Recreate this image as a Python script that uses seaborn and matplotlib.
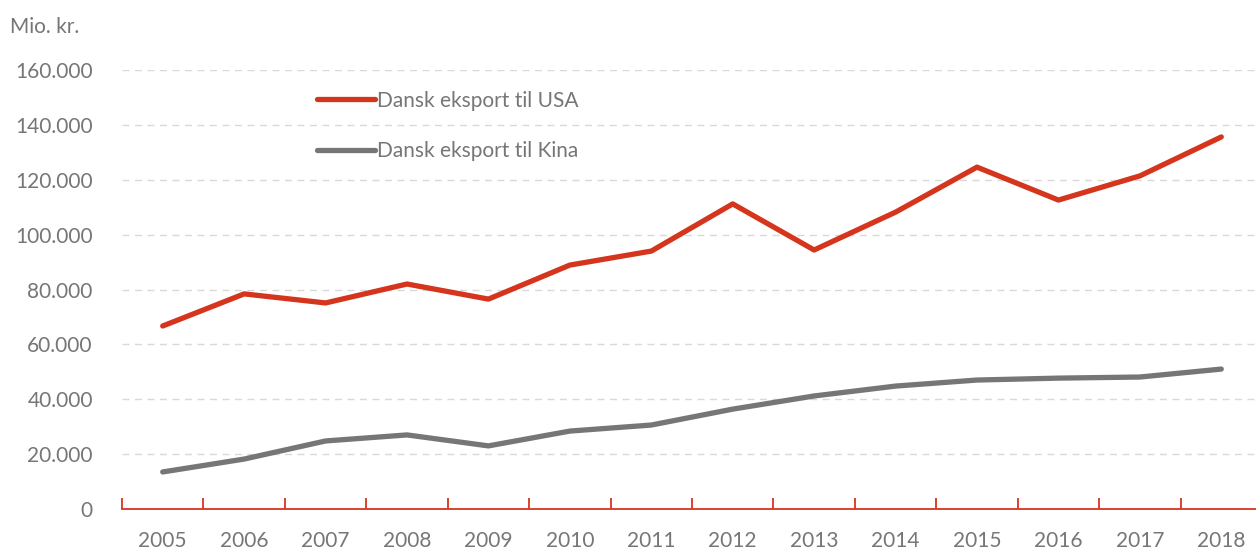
import pandas as pd
import seaborn as sns
import matplotlib.pyplot as plt
from matplotlib.ticker import FuncFormatter, FixedLocator

years = [2005, 2006, 2007, 2008, 2009, 2010, 2011, 2012, 2013, 2014, 2015, 2016, 2017, 2018]
usa = [66700, 78400, 75100, 82000, 76500, 88900, 94000, 111200, 94400, 108200, 124600, 112600, 121400, 135600]
kina = [13500, 18200, 24800, 27000, 23000, 28400, 30600, 36400, 41200, 44800, 47000, 47700, 48100, 51000]
labels = ['Dansk eksport til USA', 'Dansk eksport til Kina']

sns.set_style('white')
plt.rcParams['font.family'] = ['Lato', 'DejaVu Sans']

grey_txt = '#767676'
red = '#D4351C'
grey = '#767676'

df = pd.DataFrame({
    'pos': list(range(len(years))) * 2,
    'val': usa + kina,
    'serie': [labels[0]] * len(years) + [labels[1]] * len(years),
})

fig = plt.figure(figsize=(12.56, 5.49), dpi=100)
ax = fig.add_axes([122 / 1256, 40 / 549, 1140 / 1256, 439 / 549])

sns.lineplot(data=df, x='pos', y='val', hue='serie', palette=[red, grey],
             linewidth=3.8, ax=ax, solid_capstyle='round', legend=True)

ax.set_xlim(-0.5, len(years) - 0.5)
ax.set_ylim(0, 160000)
ax.set_yticks(range(0, 160001, 20000))
ax.yaxis.set_major_formatter(FuncFormatter(lambda v, p: f'{int(v):,}'.replace(',', '.')))
ax.set_xticks(range(len(years)))
ax.set_xticklabels([str(y) for y in years])
ax.xaxis.set_minor_locator(FixedLocator([i - 0.5 for i in range(len(years) + 1)]))
ax.tick_params(axis='x', which='major', bottom=True, length=0, pad=16, labelsize=15, labelcolor=grey_txt)
ax.tick_params(axis='x', which='minor', bottom=True, length=8, width=1.3, color=red, direction='in')
ax.tick_params(axis='y', length=0, pad=21, labelsize=15, labelcolor=grey_txt)
ax.set_xlabel('')
ax.set_ylabel('')

for y in range(20000, 160001, 20000):
    ax.axhline(y, color='#d9d9d9', linewidth=1, dashes=(5, 4), zorder=0)

for s in ['top', 'right', 'left']:
    ax.spines[s].set_visible(False)
ax.spines['bottom'].set_color(red)
ax.spines['bottom'].set_linewidth(1.3)

ax.legend(loc='upper left', bbox_to_anchor=(298 / 1256, 1 - 72 / 549),
          bbox_transform=fig.transFigure, frameon=False, fontsize=15,
          labelcolor=grey_txt, handlelength=2.8, handletextpad=0.1,
          labelspacing=1.45)

fig.text(10 / 1256, 1 - 27 / 549, 'Mio. kr.', fontsize=15, color=grey_txt, va='center')

fig.savefig('out.png', dpi=100)
